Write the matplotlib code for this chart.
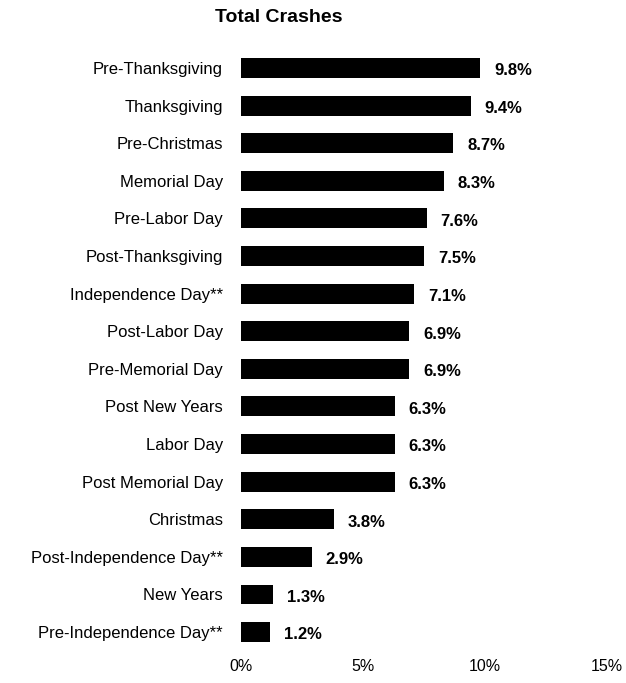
import matplotlib.pyplot as plt
from matplotlib.ticker import FuncFormatter

plt.rcParams['font.family'] = ['Liberation Sans', 'DejaVu Sans']

# Porcentaje de choques por periodo festivo
periodos = ['Pre-Thanksgiving', 'Thanksgiving', 'Pre-Christmas', 'Memorial Day',
            'Pre-Labor Day', 'Post-Thanksgiving', 'Independence Day**',
            'Post-Labor Day', 'Pre-Memorial Day', 'Post New Years', 'Labor Day',
            'Post Memorial Day', 'Christmas', 'Post-Independence Day**',
            'New Years', 'Pre-Independence Day**']
porcentajes = [9.8, 9.4, 8.7, 8.3, 7.6, 7.5, 7.1, 6.9, 6.9, 6.3, 6.3, 6.3,
               3.8, 2.9, 1.3, 1.2]
ticks_x = [0, 5, 10, 15]

fig = plt.figure(figsize=(6.26, 6.83), dpi=100)
ax = fig.add_axes([0.385, 0.047, 0.585, 0.881])

posiciones = list(range(len(periodos)))
ax.barh(posiciones, porcentajes, height=0.53, color='black')

for y, valor in zip(posiciones, porcentajes):
    ax.annotate(f'{valor:.1f}%', xy=(valor, y), xytext=(10, -2),
                textcoords='offset points', ha='left', va='center',
                fontsize=12, fontweight='bold')

ax.set_xlim(0, 15)
ax.set_ylim(len(periodos) - 0.5, -0.5)
ax.set_xticks(ticks_x)
ax.xaxis.set_major_formatter(FuncFormatter(lambda v, p: f'{v:.0f}%'))
ax.set_yticks(posiciones)
ax.set_yticklabels(periodos)
ax.tick_params(axis='both', length=0)
ax.tick_params(axis='y', pad=13, labelsize=12)
ax.tick_params(axis='x', pad=6, labelsize=11.5)
for lado in ax.spines.values():
    lado.set_visible(False)

fig.text(0.446, 0.974, 'Total Crashes', ha='center', va='center',
         fontsize=14, fontweight='bold')

plt.savefig('out.png', dpi=100)
